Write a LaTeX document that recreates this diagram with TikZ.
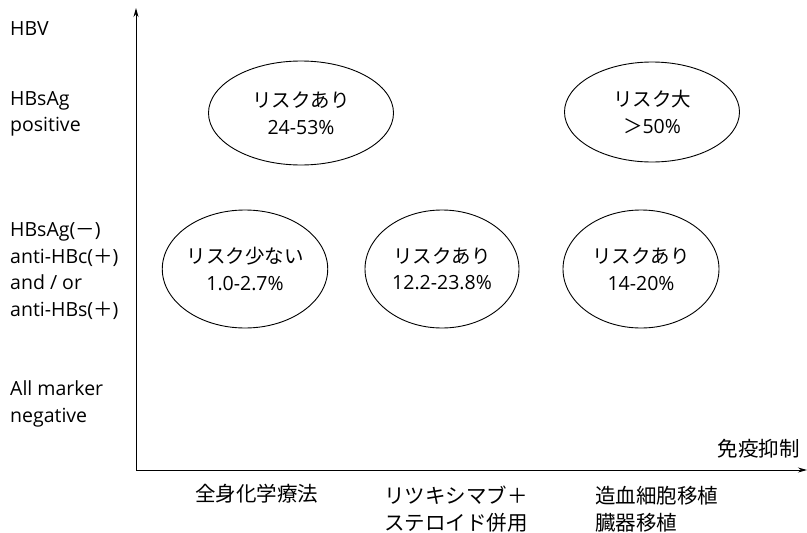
\documentclass[tikz,border=0pt]{standalone}
\usepackage{fontspec}
\setmainfont{Open Sans}
\newfontfamily\cjk{Noto Sans CJK JP}
\usetikzlibrary{shapes.geometric,arrows.meta}
\begin{document}
\begin{tikzpicture}[x=1pt,y=-1pt,
  every node/.style={font=\fontsize{19.5}{26.5}\selectfont, inner sep=0pt},
  risk/.style={draw, ellipse, line width=0.9pt, align=center},
  lbl/.style={anchor=west, align=left},
  jp/.style={font=\cjk\fontsize{20.5}{26.5}\selectfont},
  axis/.style={line width=0.9pt, -{Stealth[length=9pt,width=5pt]}}]
\useasboundingbox (0,0) rectangle (807,533);
\coordinate (o) at (136,470);
\coordinate (ytop) at (136,8);
\coordinate (xend) at (807,470);
\draw[axis] (o) -- (ytop);
\draw[axis] (o) -- (xend);
% ellipses
\node[risk, minimum width=185, minimum height=104] (e1) at (301,113) {{\cjk リスクあり}\\24-53\%};
\node[risk, minimum width=175, minimum height=100] (e2) at (652,112) {{\cjk リスク大}\\{\cjk ＞}50\%};
\node[risk, minimum width=156, minimum height=118] (e3) at (245,269) {{\cjk リスク少ない}\\1.0-2.7\%};
\node[risk, minimum width=154, minimum height=118] (e4) at (442,269) {{\cjk リスクあり}\\12.2-23.8\%};
\node[risk, minimum width=156, minimum height=118] (e5) at (641,269) {{\cjk リスクあり}\\14-20\%};
% y labels
\node[lbl] (hbv) at (10,29) {HBV};
\node[lbl] (pos) at (10,114) {HBsAg\\positive};
\node[lbl] (neg) at (10,271) {HBsAg({\cjk －})\\anti-HBc({\cjk ＋})\\and / or\\anti-HBs({\cjk ＋})};
\node[lbl] (all) at (10,404) {All marker\\negative};
% x labels
\node[anchor=east, jp] (imm) at (800,449) {免疫抑制};
\node[lbl, jp] (c1) at (195,494) {全身化学療法};
\node[lbl, jp] (c2) at (384,509) {リツキシマブ＋\\ステロイド併用};
\node[lbl, jp] (c3) at (595,509) {造血細胞移植\\臓器移植};
\end{tikzpicture}
\end{document}
